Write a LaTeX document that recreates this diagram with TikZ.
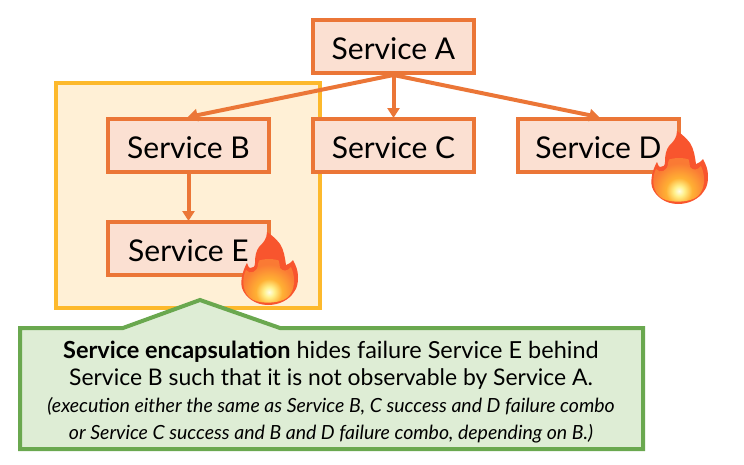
\documentclass[tikz,border=0pt]{standalone}
\usepackage{fontspec}
\setmainfont{Lato}
\usetikzlibrary{arrows.meta}
\definecolor{svcline}{HTML}{EB7637}
\definecolor{svcfill}{HTML}{FBE0D2}
\definecolor{encline}{HTML}{FDB92C}
\definecolor{encfill}{HTML}{FFF0D6}
\definecolor{noteline}{HTML}{6AA84F}
\definecolor{notefill}{HTML}{DEEDD5}
\definecolor{flameout}{HTML}{F8552E}
\definecolor{flamea}{HTML}{FFFEE8}
\definecolor{flameb}{HTML}{FFF08A}
\definecolor{flamec}{HTML}{FFB034}
\definecolor{flamed}{HTML}{FA7A34}
\pgfdeclareradialshading{flameglow}{\pgfpoint{0bp}{0bp}}{color(0bp)=(flamea);color(4bp)=(flameb);color(10bp)=(flamec);color(21bp)=(flamed);color(50bp)=(flamed)}
\tikzset{
  service/.style={draw=svcline,fill=svcfill,line width=4pt,minimum width=161pt,minimum height=53pt,inner sep=0pt,font=\fontsize{30}{34}\selectfont,text depth=0pt,text height=25pt},
  link/.style={draw=svcline,line width=4pt,-{Triangle[length=10pt,width=12pt]},shorten >=-1pt},
  pics/flame/.style={code={
    \fill[flameout] (26,0)
      .. controls (31,3) and (36,8) .. (39,12)
      .. controls (43,18) and (44,26) .. (45,33)
      .. controls (47,32) and (50,31) .. (52,28)
      .. controls (55,34) and (57,38) .. (57,45)
      .. controls (57,52) and (56,56) .. (53,60)
      .. controls (48,68) and (38,73) .. (27,73)
      .. controls (14,73) and (4,65) .. (1,56)
      .. controls (-1,48) and (2,38) .. (6,31)
      .. controls (7,34) and (8,36) .. (9,36)
      .. controls (12,36) and (14,35) .. (14,31)
      .. controls (14,24) and (15,19) .. (18,15)
      .. controls (22,11) and (26,7) .. (26,0) -- cycle;
    \begin{scope}
      \clip (26,8)
        .. controls (34,16) and (38,26) .. (39,36)
        .. controls (42,40) and (47,39) .. (50,35)
        .. controls (55,46) and (54,58) .. (47,65)
        .. controls (40,72) and (15,73) .. (8,65)
        .. controls (1,58) and (1,46) .. (5,38)
        .. controls (9,43) and (17,40) .. (17,32)
        .. controls (19,24) and (25,18) .. (26,8) -- cycle;
      \shade[shading=flameglow] (28,60) circle[radius=33pt];
    \end{scope}
  }},
}
\begin{document}
\begin{tikzpicture}[x=1pt,y=-1pt]
\useasboundingbox (0,0) rectangle (744,464);
\node[draw=encline,fill=encfill,line width=4pt,minimum width=264pt,minimum height=225pt,inner sep=0pt] (enc) at (188,195.5) {};
\node[service] (a) at (393.5,46.5) {Service A};
\node[service] (b) at (188.5,145.5) {Service B};
\node[service] (c) at (393.5,145.5) {Service C};
\node[service] (d) at (598.5,145.5) {Service D};
\node[service] (e) at (188.5,248.5) {Service E};
\draw[link] (a.south) -- (b.north);
\draw[link] (a.south) -- (c.north);
\draw[link] (a.south) -- (d.north);
\draw[link] (b.south) -- (e.north);
\pic at (241,232) {flame};
\pic at (651,131) {flame};
\draw[draw=noteline,fill=notefill,line width=4pt,miter limit=10] (20,328) -- (123,328) -- (200,300) -- (280,328) -- (643,328) -- (643,449) -- (20,449) -- cycle;
\node[align=center,inner sep=0pt,font=\fontsize{23.5}{27}\selectfont] (note) at (331,392.5) {%
  \textbf{Service encapsulation} hides failure Service E behind\\
  \fontsize{22.9}{27}\selectfont Service B such that it is not observable by Service A.\\
  \fontsize{19.5}{27}\selectfont\itshape (execution either the same as Service B, C success and D failure combo\\
  \fontsize{19.5}{27}\selectfont\itshape or Service C success and B and D failure combo, depending on B.)};
\end{tikzpicture}
\end{document}
